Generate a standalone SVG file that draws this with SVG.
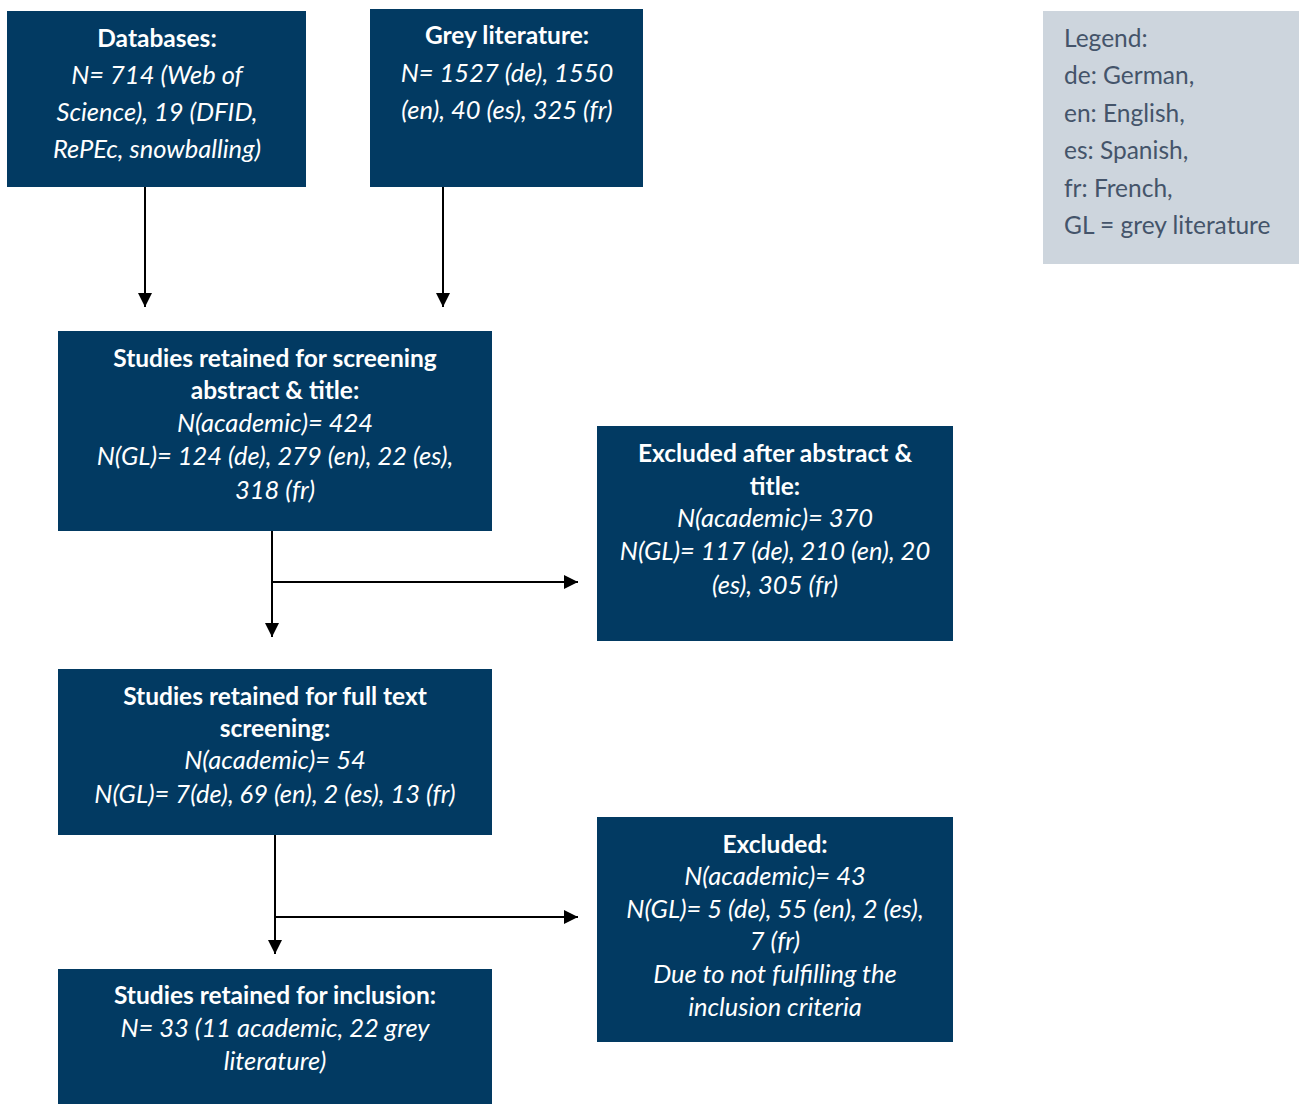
<svg xmlns="http://www.w3.org/2000/svg" width="1301" height="1104" viewBox="0 0 1301 1104">
<defs>
<style>
.box{fill:#023a62}
.t{font-family:Lato,"Open Sans","Liberation Sans",sans-serif;font-size:24px;fill:#ffffff;text-anchor:middle}
.b{font-weight:bold;font-size:24.5px}
.i{font-style:italic;font-size:25.5px}
.lg{font-family:Lato,"Open Sans","Liberation Sans",sans-serif;font-size:24.5px;fill:#44546a}
.c{stroke:#000;stroke-width:2;fill:none}
</style>
<marker id="ah" viewBox="0 0 10 10" refX="10" refY="5" markerWidth="14" markerHeight="14" markerUnits="userSpaceOnUse" orient="auto">
<path d="M0,0 L10,5 L0,10 z" fill="#000"/>
</marker>
</defs>
<rect width="1301" height="1104" fill="#fff"/>
<g id="connectors">
<line class="c" x1="145" y1="187" x2="145" y2="307" marker-end="url(#ah)"/>
<line class="c" x1="443" y1="187" x2="443" y2="307" marker-end="url(#ah)"/>
<line class="c" x1="272" y1="531" x2="272" y2="637" marker-end="url(#ah)"/>
<line class="c" x1="272" y1="582" x2="578" y2="582" marker-end="url(#ah)"/>
<line class="c" x1="275" y1="835" x2="275" y2="954" marker-end="url(#ah)"/>
<line class="c" x1="275" y1="917" x2="578" y2="917" marker-end="url(#ah)"/>
</g>
<g id="databases">
<rect class="box" x="7" y="11" width="299" height="176"/>
<text class="t b" x="157" y="47">Databases:</text>
<text class="t i" x="157" y="84">N= 714 (Web of</text>
<text class="t i" x="157" y="121">Science), 19 (DFID,</text>
<text class="t i" x="157" y="158">RePEc, snowballing)</text>
</g>
<g id="grey">
<rect class="box" x="370" y="9" width="273" height="178"/>
<text class="t b" x="507" y="44">Grey literature:</text>
<text class="t i" x="507" y="82">N= 1527 (de), 1550</text>
<text class="t i" x="507" y="119">(en), 40 (es), 325 (fr)</text>
</g>
<g id="legend">
<rect x="1043" y="11" width="256" height="253" fill="#cdd5dd"/>
<text class="lg" x="1064" y="47">Legend:</text>
<text class="lg" x="1064" y="84">de: German,</text>
<text class="lg" x="1064" y="122">en: English,</text>
<text class="lg" x="1064" y="159">es: Spanish,</text>
<text class="lg" x="1064" y="197">fr: French,</text>
<text class="lg" x="1064" y="234">GL = grey literature</text>
</g>
<g id="screening">
<rect class="box" x="58" y="331" width="434" height="200"/>
<text class="t b" x="275" y="367">Studies retained for screening</text>
<text class="t b" x="275" y="399">abstract &amp; title:</text>
<text class="t i" x="275" y="432">N(academic)= 424</text>
<text class="t i" x="275" y="465">N(GL)= 124 (de), 279 (en), 22 (es),</text>
<text class="t i" x="275" y="499">318 (fr)</text>
</g>
<g id="excluded1">
<rect class="box" x="597" y="426" width="356" height="215"/>
<text class="t b" x="775" y="462">Excluded after abstract &amp;</text>
<text class="t b" x="775" y="495">title:</text>
<text class="t i" x="775" y="527">N(academic)= 370</text>
<text class="t i" x="775" y="560">N(GL)= 117 (de), 210 (en), 20</text>
<text class="t i" x="775" y="594">(es), 305 (fr)</text>
</g>
<g id="fulltext">
<rect class="box" x="58" y="669" width="434" height="166"/>
<text class="t b" x="275" y="705">Studies retained for full text</text>
<text class="t b" x="275" y="737">screening:</text>
<text class="t i" x="275" y="769">N(academic)= 54</text>
<text class="t i" x="275" y="803">N(GL)= 7(de), 69 (en), 2 (es), 13 (fr)</text>
</g>
<g id="excluded2">
<rect class="box" x="597" y="817" width="356" height="225"/>
<text class="t b" x="775" y="853">Excluded:</text>
<text class="t i" x="775" y="885">N(academic)= 43</text>
<text class="t i" x="775" y="918">N(GL)= 5 (de), 55 (en), 2 (es),</text>
<text class="t i" x="775" y="950">7 (fr)</text>
<text class="t i" x="775" y="983">Due to not fulfilling the</text>
<text class="t i" x="775" y="1016">inclusion criteria</text>
</g>
<g id="inclusion">
<rect class="box" x="58" y="969" width="434" height="135"/>
<text class="t b" x="275" y="1004">Studies retained for inclusion:</text>
<text class="t i" x="275" y="1037">N= 33 (11 academic, 22 grey</text>
<text class="t i" x="275" y="1070">literature)</text>
</g>
</svg>
